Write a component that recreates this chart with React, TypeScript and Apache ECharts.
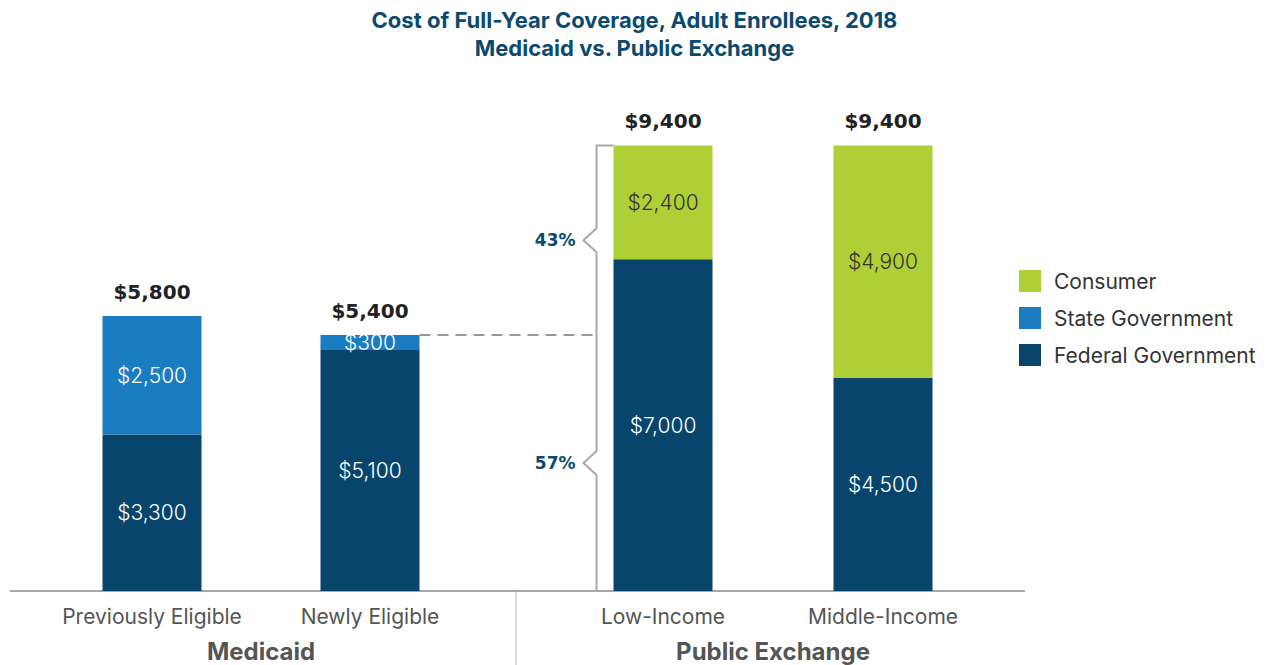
import React, { useEffect, useRef } from "react";
import * as echarts from "echarts";

const titleLines = ["Cost of Full-Year Coverage, Adult Enrollees, 2018", "Medicaid vs. Public Exchange"];
const groupNames = ["Medicaid", "Public Exchange"];
const medicaidCats = ["Previously Eligible", "Newly Eligible"];
const exchangeCats = ["Low-Income", "Middle-Income"];
const federalMedicaid = [3300, 5100];
const stateMedicaid = [2500, 300];
const federalExchange = [7000, 4500];
const consumerExchange = [2400, 4900];
const seriesNames = ["Consumer", "State Government", "Federal Government"];

const COLORS: Record<string, string> = {
  Consumer: "#AFCF36",
  "State Government": "#1B7DC1",
  "Federal Government": "#07456D",
};
const FONT = "Inter, Roboto, 'Noto Sans', sans-serif";
const WIDE = "'DejaVu Sans', Inter, sans-serif";
const fmt = (v: number) => "$" + v.toLocaleString("en-US");

export default function App() {
  const ref = useRef<HTMLDivElement>(null);
  useEffect(() => {
    if (!ref.current) return;
    const chart = echarts.init(ref.current, undefined, { renderer: "svg" });
    const medTotals = federalMedicaid.map((v, i) => v + stateMedicaid[i]);
    const exTotals = federalExchange.map((v, i) => v + consumerExchange[i]);

    const inside = (color: string) => ({
      show: true,
      position: "inside" as const,
      color,
      fontSize: 21,
      fontFamily: FONT,
      fontWeight: 300 as any,
      formatter: (p: any) => fmt(p.value),
    });
    const totalLabel = (totals: number[]) => ({
      show: true,
      position: "top" as const,
      distance: 14,
      color: "#222",
      fontSize: 20,
      fontWeight: "bold" as const,
      fontFamily: WIDE,
      formatter: (p: any) => fmt(totals[p.dataIndex]),
    });
    const barW = 99;
    const grids = [
      { left: 43, width: 436, top: 117, bottom: 74 },
      { left: 553, width: 440, top: 117, bottom: 74 },
    ];
    const catAxis = (gridIndex: number, data: string[]) => ({
      type: "category" as const,
      gridIndex,
      data,
      axisLine: { show: false },
      axisTick: { show: false },
      axisLabel: { interval: 0, hideOverlap: false, color: "#555", fontSize: 21, fontFamily: FONT, margin: 15 },
    });
    const groupAxis = (gridIndex: number, name: string) => ({
      type: "category" as const,
      gridIndex,
      position: "bottom" as const,
      offset: 34,
      data: [name],
      axisLine: { show: false },
      axisTick: { show: false },
      axisLabel: { interval: 0, color: "#555", fontSize: 24, fontWeight: "bold" as const, fontFamily: FONT, margin: 14 },
    });
    const option: any = {
      animation: false,
      title: {
        text: titleLines.join("\n"),
        left: "center",
        top: 1,
        textStyle: { color: "#0B4A6F", fontSize: 22, fontWeight: "bold", fontFamily: FONT, lineHeight: 28 },
      },
      legend: {
        orient: "vertical",
        left: 1014,
        top: 265,
        itemWidth: 22,
        itemHeight: 22,
        itemGap: 15,
        icon: "rect",
        data: seriesNames,
        textStyle: { color: "#333", fontSize: 21, fontFamily: FONT, padding: [0, 0, 0, 8] },
      },
      grid: grids,
      xAxis: [
        catAxis(0, medicaidCats),
        groupAxis(0, groupNames[0]),
        catAxis(1, exchangeCats),
        groupAxis(1, groupNames[1]),
      ],
      yAxis: [0, 1].map((g) => ({
        type: "value",
        gridIndex: g,
        min: 0,
        max: 10000,
        show: false,
        splitLine: { show: false },
      })),
      series: [
        {
          name: "Federal Government", type: "bar", stack: "m", xAxisIndex: 0, yAxisIndex: 0,
          barWidth: barW, data: federalMedicaid, itemStyle: { color: COLORS["Federal Government"] },
          label: inside("#fff"),
        },
        {
          name: "State Government", type: "bar", stack: "m", xAxisIndex: 0, yAxisIndex: 0,
          barWidth: barW, data: stateMedicaid, itemStyle: { color: COLORS["State Government"] },
          label: inside("#fff"),
        },
        {
          name: "Total", type: "bar", xAxisIndex: 0, yAxisIndex: 0, barGap: "-100%",
          barWidth: barW, data: medTotals, itemStyle: { color: "rgba(0,0,0,0)" },
          label: totalLabel(medTotals), silent: true, z: 1,
        },
        {
          name: "Federal Government", type: "bar", stack: "e", xAxisIndex: 2, yAxisIndex: 1,
          barWidth: barW, data: federalExchange, itemStyle: { color: COLORS["Federal Government"] },
          label: inside("#fff"),
        },
        {
          name: "Consumer", type: "bar", stack: "e", xAxisIndex: 2, yAxisIndex: 1,
          barWidth: barW, data: consumerExchange, itemStyle: { color: COLORS.Consumer },
          label: inside("#333"),
        },
        {
          name: "Total", type: "bar", xAxisIndex: 2, yAxisIndex: 1, barGap: "-100%",
          barWidth: barW, data: exTotals, itemStyle: { color: "rgba(0,0,0,0)" },
          label: totalLabel(exTotals), silent: true, z: 1,
        },
      ],
    };
    chart.setOption(option);

    // Annotation geometry derived from the chart's own scales
    const pLowTop = chart.convertToPixel({ seriesIndex: 3 }, [0, exTotals[0]]) as number[];
    const pLowMid = chart.convertToPixel({ seriesIndex: 3 }, [0, medTotals[1]]) as number[];
    const pBase = chart.convertToPixel({ seriesIndex: 3 }, [0, 0]) as number[];
    const pNewly = chart.convertToPixel({ seriesIndex: 0 }, [1, medTotals[1]]) as number[];
    const barLeft = pLowTop[0] - barW / 2;
    const bx = barLeft - 17;
    const top = pLowTop[1];
    const mid = pLowMid[1];
    const base = pBase[1];
    const m1 = (top + mid) / 2;
    const m2 = (mid + base) / 2;
    const n = 12;
    const nd = 13;
    const upperPct = Math.round(((exTotals[0] - medTotals[1]) / exTotals[0]) * 100);
    const lowerPct = 100 - upperPct;
    const divX = (grids[0].left + grids[0].width + grids[1].left) / 2;
    const pctStyle = { align: "right", verticalAlign: "middle", fill: "#0B4A6F", fontSize: 17, fontWeight: "bold", fontFamily: WIDE };

    chart.setOption({
      graphic: [
        {
          type: "line", silent: true,
          shape: { x1: 10, y1: base, x2: 1025, y2: base },
          style: { stroke: "#8a8a8a", lineWidth: 1.5 },
        },
        {
          type: "line", silent: true,
          shape: { x1: divX, y1: base, x2: divX, y2: 665 },
          style: { stroke: "#bbb", lineWidth: 1 },
        },
        {
          type: "line", silent: true,
          shape: { x1: pNewly[0] + barW / 2, y1: mid, x2: bx, y2: mid },
          style: { stroke: "#999", lineWidth: 2, lineDash: [11, 7] },
        },
        {
          type: "polyline", silent: true,
          shape: {
            points: [
              [barLeft, top], [bx, top], [bx, m1 - n], [bx - nd, m1], [bx, m1 + n],
              [bx, m2 - n], [bx - nd, m2], [bx, m2 + n], [bx, base],
            ],
          },
          style: { stroke: "#aaa", lineWidth: 2, fill: null },
        },
        {
          type: "text", silent: true, x: bx - nd - 8, y: m1,
          style: { text: upperPct + "%", ...pctStyle },
        },
        {
          type: "text", silent: true, x: bx - nd - 8, y: m2,
          style: { text: lowerPct + "%", ...pctStyle },
        },
      ],
    });
    return () => chart.dispose();
  }, []);
  return <div ref={ref} style={{ position: "fixed", left: 0, top: 0, width: 1269, height: 665, background: "#fff" }} />;
}
